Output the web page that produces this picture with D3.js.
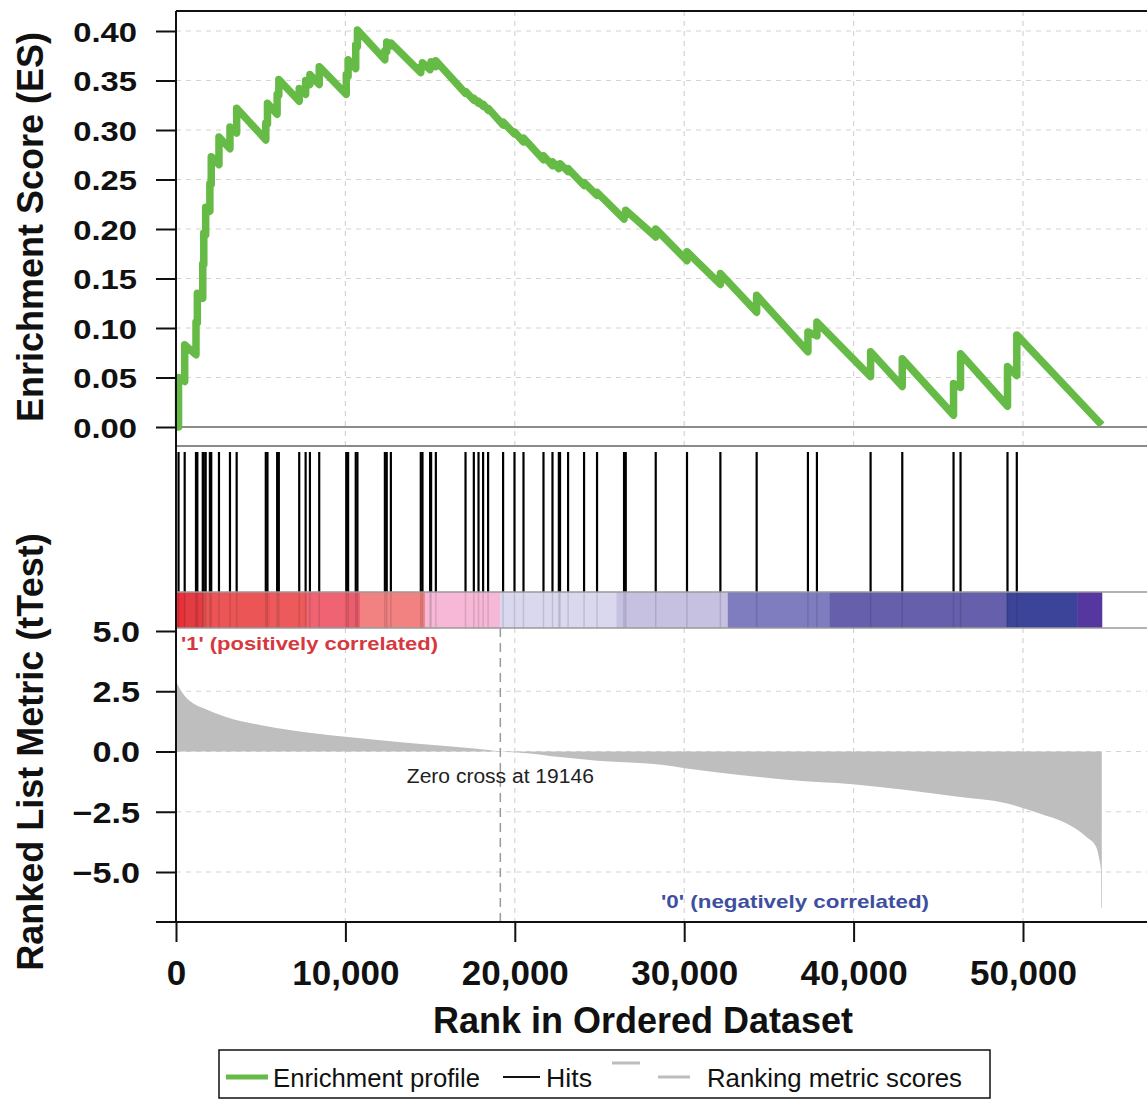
<!DOCTYPE html>
<html>
<head>
<meta charset="utf-8">
<script src="https://cdn.jsdelivr.net/npm/d3@7"></script>
<style>
  body { margin: 0; background: #fff; }
  svg { display: block; font-family: 'Liberation Sans', Arial, sans-serif; }
</style>
</head>
<body>
<div id="chart"></div>
<script>
// hit positions (rank) and ES just before / after each hit
const hitRanks = [150, 513, 1180, 1260, 1580, 1640, 1752, 2000, 2080, 2537, 3186, 3581, 5300, 5400, 5970, 6070,
  7274, 7652, 7906, 8454, 10050, 10160, 10610, 10710, 12330, 12440, 12684, 14450, 14550, 15000, 15060, 15339,
  17091, 17581, 17858, 18130, 18425, 19310, 19982, 20513, 21693, 22224, 22600, 22670, 23145, 24089, 24855,
  26450, 26550, 28319, 30165, 32136, 34277, 37304, 37835, 41003, 42873, 45900, 46313, 49085, 49634]
const esBefore = [0.000, 0.046, 0.073, 0.105, 0.130, 0.164, 0.194, 0.218, 0.245, 0.265, 0.281, 0.297, 0.290, 0.306, 0.316, 0.335,
  0.329, 0.336, 0.346, 0.346, 0.336, 0.354, 0.362, 0.384, 0.371, 0.379, 0.385, 0.358, 0.363, 0.361, 0.365, 0.364,
  0.337, 0.330, 0.327, 0.324, 0.320, 0.305, 0.296, 0.288, 0.270, 0.264, 0.261, 0.263, 0.258, 0.244, 0.234,
  0.210, 0.214, 0.192, 0.168, 0.144, 0.116, 0.076, 0.092, 0.051, 0.041, 0.012, 0.040, 0.021, 0.052]
const esAfter = [0.050, 0.083, 0.106, 0.135, 0.165, 0.196, 0.222, 0.246, 0.273, 0.293, 0.303, 0.322, 0.307, 0.327, 0.336, 0.351,
  0.342, 0.350, 0.356, 0.364, 0.356, 0.371, 0.386, 0.401, 0.380, 0.389, 0.388, 0.364, 0.368, 0.366, 0.369, 0.370,
  0.339, 0.332, 0.329, 0.326, 0.322, 0.308, 0.298, 0.292, 0.274, 0.268, 0.264, 0.266, 0.261, 0.247, 0.237,
  0.215, 0.219, 0.200, 0.177, 0.155, 0.133, 0.096, 0.106, 0.076, 0.069, 0.044, 0.074, 0.061, 0.093]
const lastRank = 54650
const lastES = 0.002

// ranked list metric (tTest)
const metricRank = [0, 118, 530, 1003, 1593, 2991, 4956, 6903, 9853, 12802, 15752, 17758, 19146, 20690, 22655, 25605,
  27375, 28655, 30029, 33274, 36224, 39941, 43109, 46059, 49009, 50974, 52549, 53729, 54319, 54513, 54600, 54625, 54650]
const metricValue = [2.92, 2.75, 2.29, 2.0, 1.8, 1.42, 1.1, 0.875, 0.625, 0.42, 0.24, 0.11, 0, -0.07, -0.23, -0.42,
  -0.48, -0.55, -0.69, -0.97, -1.18, -1.36, -1.6, -1.87, -2.15, -2.57, -2.98, -3.54, -3.96, -4.5, -4.9, -6.5, -6.5]
const zeroCross = 19146

// colour bar bands
const bandStart = [0, 530, 1593, 5546, 7711, 9971, 10855, 14694, 19120, 26006, 32574, 38593, 49020, 53198]
const bandColor = ['#e8303a', '#e23c42', '#eb5556', '#ec5a5c', '#ef6373', '#e95d6d', '#f28181', '#f6b8d6',
  '#dad8ee', '#c6c0e1', '#7f7dbf', '#6660ac', '#3c449a', '#55379f']

const esTicks = [0, 0.05, 0.10, 0.15, 0.20, 0.25, 0.30, 0.35, 0.40]
const metricTicks = [-5, -2.5, 0, 2.5, 5]
const rankTicks = [0, 10000, 20000, 30000, 40000, 50000]

const width = 1147, height = 1100
const left = 176, right = 1160
const esTop = 11, esBottom = 446, hitTop = 452, barTop = 592, barBottom = 628, mBottom = 922

const x = d3.scaleLinear([0, 50000], [176, 1023])
const yES = d3.scaleLinear([0, 0.4], [427, 31])
const yM = d3.scaleLinear([-5, 5], [872, 631])

const svg = d3.select('#chart').append('svg')
  .attr('width', width)
  .attr('height', height)

const g = svg.append('g')

// 网格
const gridColor = '#d4d4d4'
g.selectAll('.hgrid-es').data(esTicks.slice(1)).enter().append('line')
  .attr('x1', left).attr('x2', right)
  .attr('y1', d => yES(d)).attr('y2', d => yES(d))
  .attr('stroke', gridColor).attr('stroke-width', 1.2).attr('stroke-dasharray', '5,5')
g.selectAll('.hgrid-m').data(metricTicks.filter(d => d < 5)).enter().append('line')
  .attr('x1', left).attr('x2', right)
  .attr('y1', d => yM(d)).attr('y2', d => yM(d))
  .attr('stroke', gridColor).attr('stroke-width', 1.2).attr('stroke-dasharray', '5,5')
rankTicks.slice(1).forEach(t => {
  g.append('line').attr('x1', x(t)).attr('x2', x(t)).attr('y1', esTop).attr('y2', esBottom)
    .attr('stroke', gridColor).attr('stroke-width', 1.2).attr('stroke-dasharray', '5,5')
  g.append('line').attr('x1', x(t)).attr('x2', x(t)).attr('y1', barBottom).attr('y2', mBottom)
    .attr('stroke', gridColor).attr('stroke-width', 1.2).attr('stroke-dasharray', '5,5')
})

// ranked metric area
const metric = metricRank.map((r, i) => [r, metricValue[i]])
g.append('path')
  .datum(metric)
  .attr('d', d3.area().curve(d3.curveMonotoneX).x(d => x(d[0])).y0(yM(0)).y1(d => yM(d[1])))
  .attr('fill', '#bebebe')

// zero cross
g.append('line')
  .attr('x1', x(zeroCross)).attr('x2', x(zeroCross))
  .attr('y1', barBottom).attr('y2', mBottom)
  .attr('stroke', '#9a9a9a').attr('stroke-width', 1.5).attr('stroke-dasharray', '9,6')
g.append('text')
  .attr('x', x(zeroCross)).attr('y', 783)
  .attr('text-anchor', 'middle')
  .attr('font-size', 20)
  .attr('fill', '#222')
  .attr('textLength', 187).attr('lengthAdjust', 'spacingAndGlyphs')
  .text('Zero cross at ' + zeroCross)

// ES zero line
g.append('line').attr('x1', left).attr('x2', right).attr('y1', yES(0)).attr('y2', yES(0))
  .attr('stroke', '#666').attr('stroke-width', 1.5)

// enrichment profile
const esPoints = [[0, 0]]
hitRanks.forEach((r, i) => {
  esPoints.push([r, esBefore[i]])
  esPoints.push([r, esAfter[i]])
})
esPoints.push([lastRank, lastES])
g.append('path')
  .datum(esPoints)
  .attr('d', d3.line().x(d => x(d[0])).y(d => yES(d[1])))
  .attr('fill', 'none')
  .attr('stroke', '#66bb46')
  .attr('stroke-width', 7.5)
  .attr('stroke-linejoin', 'round')

// colour bar
g.selectAll('.band').data(bandStart).enter().append('rect')
  .attr('x', d => x(d))
  .attr('y', barTop)
  .attr('width', (d, i) => x(i < bandStart.length - 1 ? bandStart[i + 1] : lastRank) - x(d) + 0.5)
  .attr('height', barBottom - barTop)
  .attr('fill', (d, i) => bandColor[i])

// hits
g.selectAll('.hit').data(hitRanks).enter().append('line')
  .attr('x1', d => x(d)).attr('x2', d => x(d))
  .attr('y1', hitTop).attr('y2', barTop)
  .attr('stroke', '#000').attr('stroke-width', 2.2)
g.selectAll('.hitbar').data(hitRanks).enter().append('line')
  .attr('x1', d => x(d)).attr('x2', d => x(d))
  .attr('y1', barTop).attr('y2', barBottom)
  .attr('stroke', '#000').attr('stroke-width', 1.5).attr('stroke-opacity', 0.12)

// 边框
g.append('line').attr('x1', left).attr('x2', right).attr('y1', esBottom).attr('y2', esBottom)
  .attr('stroke', '#8a8a8a').attr('stroke-width', 2)
g.append('line').attr('x1', left).attr('x2', right).attr('y1', barTop).attr('y2', barTop)
  .attr('stroke', '#9a9a9a').attr('stroke-width', 1.5)
g.append('line').attr('x1', left).attr('x2', right).attr('y1', barBottom).attr('y2', barBottom)
  .attr('stroke', '#9a9a9a').attr('stroke-width', 1.5)
g.append('line').attr('x1', left).attr('x2', right).attr('y1', esTop).attr('y2', esTop)
  .attr('stroke', '#111').attr('stroke-width', 2)
g.append('line').attr('x1', left).attr('x2', left).attr('y1', esTop).attr('y2', mBottom)
  .attr('stroke', '#111').attr('stroke-width', 2)
g.append('line').attr('x1', 156).attr('x2', right).attr('y1', mBottom).attr('y2', mBottom)
  .attr('stroke', '#111').attr('stroke-width', 2)

// 坐标轴
function stretch(sel, k) {
  sel.each(function () {
    const w = this.getComputedTextLength()
    d3.select(this).attr('textLength', w * k).attr('lengthAdjust', 'spacingAndGlyphs')
  })
}
function styleAxis(ax, size) {
  ax.select('.domain').remove()
  ax.selectAll('line').attr('stroke', '#111').attr('stroke-width', 2)
  ax.selectAll('text')
    .attr('fill', '#111')
    .attr('font-size', size)
    .attr('font-weight', 'bold')
    .attr('font-family', "'Liberation Sans', Arial, sans-serif")
}

const axES = g.append('g').attr('transform', `translate(${left},0)`)
  .call(d3.axisLeft(yES).tickValues(esTicks).tickFormat(d3.format('.2f')).tickSize(20).tickPadding(19))
styleAxis(axES, 28)
axES.selectAll('text').attr('dy', '0.36em')
stretch(axES.selectAll('text'), 1.17)

const axM = g.append('g').attr('transform', `translate(${left},0)`)
  .call(d3.axisLeft(yM).tickValues(metricTicks).tickFormat(d3.format('.1f')).tickSize(20).tickPadding(16))
styleAxis(axM, 29)
axM.selectAll('text').attr('dy', '0.36em')
stretch(axM.selectAll('text'), 1.18)

const axX = g.append('g').attr('transform', `translate(0,${mBottom})`)
  .call(d3.axisBottom(x).tickValues(rankTicks).tickFormat(d3.format(',')).tickSize(20))
styleAxis(axX, 35)
axX.selectAll('text').attr('y', 63).attr('dy', 0)

// 标题
g.append('text')
  .attr('transform', 'translate(43,227) rotate(-90)')
  .attr('text-anchor', 'middle')
  .attr('font-size', 36).attr('font-weight', 'bold').attr('fill', '#111')
  .text('Enrichment Score (ES)')
g.append('text')
  .attr('transform', 'translate(43,752) rotate(-90)')
  .attr('text-anchor', 'middle')
  .attr('font-size', 36).attr('font-weight', 'bold').attr('fill', '#111')
  .text('Ranked List Metric (tTest)')
g.append('text')
  .attr('x', 643).attr('y', 1033)
  .attr('text-anchor', 'middle')
  .attr('font-size', 36).attr('font-weight', 'bold').attr('fill', '#111')
  .text('Rank in Ordered Dataset')

g.append('text')
  .attr('x', 181).attr('y', 650)
  .attr('font-size', 19).attr('font-weight', 'bold').attr('fill', '#d6393d')
  .attr('textLength', 257).attr('lengthAdjust', 'spacingAndGlyphs')
  .text("'1' (positively correlated)")
g.append('text')
  .attr('x', 661).attr('y', 908)
  .attr('font-size', 19).attr('font-weight', 'bold').attr('fill', '#3f4fa0')
  .attr('textLength', 268).attr('lengthAdjust', 'spacingAndGlyphs')
  .text("'0' (negatively correlated)")

// 图例
const lg = g.append('g')
lg.append('rect').attr('x', 219).attr('y', 1050).attr('width', 771).attr('height', 48)
  .attr('fill', '#fff').attr('stroke', '#111').attr('stroke-width', 1.5)
lg.append('line').attr('x1', 226).attr('x2', 268).attr('y1', 1077).attr('y2', 1077)
  .attr('stroke', '#66bb46').attr('stroke-width', 5)
lg.append('text').attr('x', 273).attr('y', 1087).attr('font-size', 25).attr('fill', '#111')
  .attr('textLength', 207).attr('lengthAdjust', 'spacingAndGlyphs').text('Enrichment profile')
lg.append('line').attr('x1', 503).attr('x2', 540).attr('y1', 1077).attr('y2', 1077)
  .attr('stroke', '#111').attr('stroke-width', 2)
lg.append('text').attr('x', 546).attr('y', 1087).attr('font-size', 25).attr('fill', '#111')
  .attr('textLength', 46).attr('lengthAdjust', 'spacingAndGlyphs').text('Hits')
lg.append('line').attr('x1', 612).attr('x2', 640).attr('y1', 1063).attr('y2', 1063)
  .attr('stroke', '#bdbdbd').attr('stroke-width', 3)
lg.append('line').attr('x1', 658).attr('x2', 690).attr('y1', 1077).attr('y2', 1077)
  .attr('stroke', '#bdbdbd').attr('stroke-width', 3)
lg.append('text').attr('x', 707).attr('y', 1087).attr('font-size', 25).attr('fill', '#111')
  .attr('textLength', 255).attr('lengthAdjust', 'spacingAndGlyphs').text('Ranking metric scores')
</script>
</body>
</html>
